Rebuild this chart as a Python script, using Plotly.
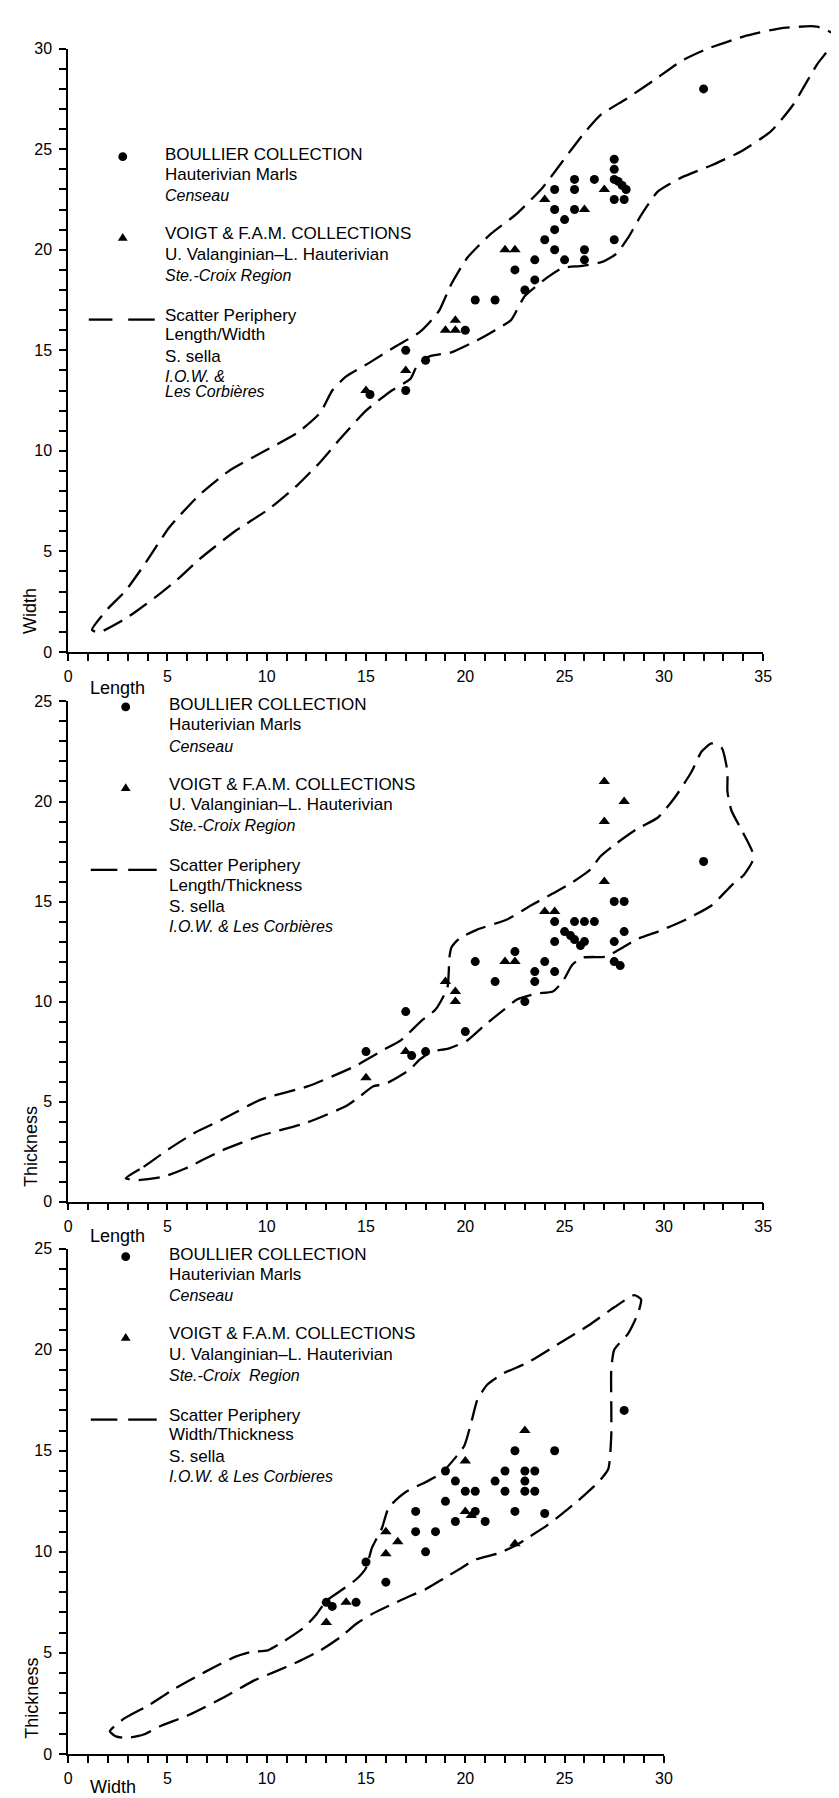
import plotly.graph_objects as go

W, H = 839, 1798

# ---------------- data ----------------
# Panel 1: Length / Width
p1_circ_len = [15.2, 17, 17, 18, 20, 20.5, 21.5, 22.5, 23, 23.5, 23.5, 24, 24.5, 24.5, 25, 24.5, 25.5,
               25, 26, 26, 24.5, 25.5, 25.5, 26.5, 27.5, 27.5, 27.5, 27.7, 27.9, 28.1, 27.5, 28, 27.5, 32]
p1_circ_wid = [12.8, 15, 13, 14.5, 16, 17.5, 17.5, 19, 18, 18.5, 19.5, 20.5, 20, 21, 21.5, 22, 22,
               19.5, 19.5, 20, 23, 23, 23.5, 23.5, 24.5, 24, 23.5, 23.4, 23.2, 23, 22.5, 22.5, 20.5, 28]
p1_tri_len = [15, 17, 19, 19.5, 19.5, 22, 22.5, 24, 26, 27]
p1_tri_wid = [13, 14, 16, 16, 16.5, 20, 20, 22.5, 22, 23]
p1_env_len = [1.2, 2.0, 2.9, 3.95, 5.1, 6.6, 8.1, 10.1, 11.55, 12.7, 13.3, 14.0, 15.2, 16.5, 17.7, 18.3,
              18.7, 19.3, 20.1, 21.3, 22.6, 23.9, 24.9, 25.9, 26.8, 28.1, 29.6, 30.9, 32.2, 34.0, 35.8,
              37.7, 38.7, 37.7, 36.5, 35.4, 33.9, 32.4, 30.9, 29.7, 28.9, 28.2, 27.6, 26.9, 25.9, 24.9,
              24.1, 23.0, 22.7, 22.3, 21.5, 20.6, 19.3, 18.2, 17.6, 17.25, 16.3, 15.0, 13.7, 12.7, 11.55,
              10.1, 8.4, 6.6, 5.5, 4.5, 3.4, 2.8, 1.55]
p1_env_wid = [1.1, 2.15, 3.05, 4.5, 6.2, 7.8, 9.0, 10.1, 10.9, 11.9, 13.0, 13.7, 14.4, 15.2, 15.9, 16.5,
              17.0, 18.3, 19.6, 20.8, 21.8, 23.1, 24.4, 25.7, 26.7, 27.5, 28.5, 29.4, 30.0, 30.6, 31.0,
              31.1, 30.6, 29.2, 27.2, 25.9, 24.9, 24.2, 23.6, 22.9, 21.8, 20.6, 19.8, 19.4, 19.2, 19.1,
              18.6, 17.7, 17.2, 16.5, 16.0, 15.5, 14.9, 14.7, 14.3, 13.6, 13.0, 12.0, 10.6, 9.45, 8.3,
              7.1, 6.0, 4.6, 3.6, 2.8, 2.0, 1.6, 0.97]

# Panel 2: Length / Thickness
p2_circ_len = [15, 17, 17.3, 18, 20, 20.5, 21.5, 22.5, 23, 23.5, 23.5, 24, 24.5, 24.5, 24.5, 25, 25.3,
               25.5, 25.8, 26, 25.5, 26, 26.5, 27.5, 28, 28, 27.5, 27.5, 27.8, 32]
p2_circ_thk = [7.5, 9.5, 7.3, 7.5, 8.5, 12, 11, 12.5, 10, 11.5, 11, 12, 11.5, 14, 13, 13.5, 13.3,
               13.1, 12.8, 13, 14, 14, 14, 15, 15, 13.5, 13, 12, 11.8, 17]
p2_tri_len = [15, 17, 19, 19.5, 19.5, 22, 22.5, 24, 24.5, 27, 27, 28, 27]
p2_tri_thk = [6.2, 7.5, 11, 10.5, 10, 12, 12, 14.5, 14.5, 16, 19, 20, 21]
p2_env_len = [2.9, 3.8, 5.1, 6.4, 7.75, 9.7, 12.05, 14.4, 16.0, 16.75, 17.8, 18.5, 19.1, 19.2, 19.3,
              19.7, 20.6, 22.1, 23.3, 24.4, 25.3, 26.3, 26.8, 27.6, 28.6, 29.7, 30.55, 31.4, 31.9, 32.4,
              32.9, 33.2, 33.2, 33.4, 33.9, 34.45, 34.45, 34.0, 33.4, 32.4, 30.9, 29.7, 28.6, 27.75,
              27.1, 25.9, 25.4, 24.9, 24.4, 23.6, 22.6, 21.95, 20.95, 20.1, 19.15, 18.3, 17.7, 17.2,
              16.0, 15.35, 14.7, 14.0, 12.05, 9.7, 7.75, 5.9, 4.8, 3.5]
p2_env_thk = [1.17, 1.74, 2.65, 3.46, 4.1, 5.1, 5.76, 6.75, 7.65, 8.06, 9.05, 9.6, 10.7, 12.2, 12.7,
              13.15, 13.6, 14.1, 14.8, 15.4, 15.9, 16.6, 17.25, 17.9, 18.6, 19.2, 20.2, 21.5, 22.5, 22.9,
              22.7, 21.5, 20.5, 19.55, 18.6, 17.5, 17.0, 16.3, 15.8, 14.8, 14.0, 13.5, 13.1, 12.6,
              12.25, 12.2, 11.85, 11.0, 10.5, 10.4, 10.1, 9.6, 8.8, 8.06, 7.65, 7.5, 7.1, 6.6,
              5.9, 5.76, 5.27, 4.78, 3.96, 3.3, 2.56, 1.66, 1.25, 1.08]

# Panel 3: Width / Thickness
p3_circ_wid = [13, 13.3, 14.5, 15, 16, 17.5, 17.5, 18, 18.5, 19, 19, 19.5, 19.5, 20, 20.5, 20.5, 21,
               21.5, 22, 22, 22.5, 22.5, 23, 23.5, 23, 23, 23.5, 24, 24.5, 28]
p3_circ_thk = [7.5, 7.3, 7.5, 9.5, 8.5, 12, 11, 10, 11, 12.5, 14, 13.5, 11.5, 13, 13, 12, 11.5,
               13.5, 14, 13, 15, 12, 14, 14, 13.5, 13, 13, 11.9, 15, 17]
p3_tri_wid = [13, 14, 16, 16, 16.6, 20, 20.3, 20, 23, 22.5]
p3_tri_thk = [6.5, 7.5, 11, 9.9, 10.5, 12, 11.8, 14.5, 16, 10.4]
p3_env_wid = [2.1, 2.85, 4.1, 5.25, 6.9, 8.4, 9.2, 10.05, 10.9, 11.9, 12.5, 13.0, 13.7, 14.5, 15.0,
              15.3, 15.8, 16.15, 17.0, 18.1, 18.8, 19.45, 19.95, 20.3, 20.6, 21.1, 21.95, 23.1, 24.7,
              26.2, 27.5, 28.5, 28.85, 28.7, 28.2, 27.5, 27.35, 27.35, 27.35, 27.2, 26.7, 25.7, 24.9,
              24.1, 23.25, 22.6, 21.7, 20.45, 19.8, 18.95, 18.0, 17.3, 16.15, 15.3, 14.5, 13.7, 12.7,
              11.55, 10.4, 9.4, 7.9, 6.1, 4.6, 3.8, 2.95, 2.4]
p3_env_thk = [1.12, 1.77, 2.43, 3.16, 4.06, 4.8, 5.04, 5.12, 5.6, 6.27, 6.9, 7.57, 8.06, 8.63, 9.2,
              10.2, 11.17, 12.2, 12.96, 13.5, 13.9, 14.6, 15.25, 16.4, 17.5, 18.27, 18.85, 19.34, 20.3,
              21.2, 22.1, 22.7, 22.5, 21.8, 20.8, 20.0, 19.0, 17.4, 15.75, 14.1, 13.45, 12.55, 11.9,
              11.3, 10.76, 10.35, 9.94, 9.6, 9.2, 8.7, 8.15, 7.85, 7.33, 6.92, 6.43, 5.77, 5.12,
              4.55, 4.06, 3.65, 2.83, 1.94, 1.36, 0.96, 0.79, 0.87]

x_ticks_35 = list(range(0, 36))
x_ticks_30 = list(range(0, 31))
y_ticks_30 = list(range(0, 31))
y_ticks_25 = list(range(0, 26))

legend_lines = {
    1: ["BOULLIER COLLECTION", "Hauterivian Marls", "<i>Censeau</i>",
        "VOIGT &amp; F.A.M. COLLECTIONS", "U. Valanginian\u2013L. Hauterivian", "<i>Ste.-Croix Region</i>",
        "Scatter Periphery", "Length/Width", "S. sella", "<i>I.O.W. &amp;</i>", "<i>Les Corbi\u00e8res</i>"],
    2: ["BOULLIER COLLECTION", "Hauterivian Marls", "<i>Censeau</i>",
        "VOIGT &amp; F.A.M. COLLECTIONS", "U. Valanginian\u2013L. Hauterivian", "<i>Ste.-Croix Region</i>",
        "Scatter Periphery", "Length/Thickness", "S. sella", "<i>I.O.W. &amp; Les Corbi\u00e8res</i>"],
    3: ["BOULLIER COLLECTION", "Hauterivian Marls", "<i>Censeau</i>",
        "VOIGT &amp; F.A.M. COLLECTIONS", "U. Valanginian\u2013L. Hauterivian", "<i>Ste.-Croix  Region</i>",
        "Scatter Periphery", "Width/Thickness", "S. sella", "<i>I.O.W. &amp; Les Corbieres</i>"],
}

# ---------------- geometry (pixels) ----------------
def fx(px):
    return px / W


def fy(py):
    return 1 - py / H


X0 = 57.0
SX = (763.0 - X0) / 35.0
panels = [
    dict(ybase=642.0, ytop_val=30, ytop_px=33.0, xmax=35, env_top=0.0,
         xt=x_ticks_35, yt=y_ticks_30),
    dict(ybase=1197.0, ytop_val=25, ytop_px=692.0, xmax=35, env_top=650.0,
         xt=x_ticks_35, yt=y_ticks_25),
    dict(ybase=1754.5, ytop_val=25, ytop_px=1244.5, xmax=30, env_top=1200.0,
         xt=x_ticks_30, yt=y_ticks_25),
]

FONT = "Liberation Sans, Arial, Helvetica, sans-serif"
fig = go.Figure()

circ_data = [(p1_circ_len, p1_circ_wid), (p2_circ_len, p2_circ_thk), (p3_circ_wid, p3_circ_thk)]
tri_data = [(p1_tri_len, p1_tri_wid), (p2_tri_len, p2_tri_thk), (p3_tri_wid, p3_tri_thk)]
env_data = [(p1_env_len, p1_env_wid), (p2_env_len, p2_env_thk), (p3_env_wid, p3_env_thk)]

layout = dict(width=W, height=H, margin=dict(l=0, r=0, t=0, b=0), paper_bgcolor="white",
              plot_bgcolor="rgba(0,0,0,0)", showlegend=False, font=dict(family=FONT, color="black"))

for i, p in enumerate(panels):
    n = i + 1
    sy = (p["ybase"] - p["ytop_px"]) / p["ytop_val"]
    vx, vy = ("x" if n == 1 else f"x{n}"), ("y" if n == 1 else f"y{n}")
    hx, hy = f"x{n + 3}", f"y{n + 3}"
    xmax_px = X0 + SX * p["xmax"]

    tick_common = dict(showline=True, linecolor="black", linewidth=1.6, ticks="outside",
                       ticklen=7, tickwidth=1.5, tickcolor="black", showgrid=False, zeroline=False,
                       tickfont=dict(family=FONT, size=16, color="black"), tickmode="array",
                       fixedrange=True)
    layout["xaxis" if n == 1 else f"xaxis{n}"] = dict(
        domain=[fx(X0), fx(xmax_px)], range=[0, p["xmax"]], anchor=vy,
        tickvals=p["xt"], ticktext=[str(v) if v % 5 == 0 else "" for v in p["xt"]],
        ticklabelstandoff=2, **tick_common)
    layout["yaxis" if n == 1 else f"yaxis{n}"] = dict(
        domain=[fy(p["ybase"]), fy(p["ytop_px"])], range=[0, p["ytop_val"]], anchor=vx,
        tickvals=p["yt"], ticktext=[str(v) if v % 5 == 0 else "" for v in p["yt"]],
        ticklabelstandoff=4, **tick_common)
    # hidden axes with the same scale but a larger area for the scatter periphery
    layout[f"xaxis{n + 3}"] = dict(domain=[fx(X0), 1.0], range=[0, (W - X0) / SX], anchor=hy,
                                   visible=False, fixedrange=True)
    layout[f"yaxis{n + 3}"] = dict(domain=[fy(p["ybase"]), fy(p["env_top"])],
                                   range=[0, (p["ybase"] - p["env_top"]) / sy], anchor=hx,
                                   visible=False, fixedrange=True)

    ex, ey = env_data[i]
    fig.add_trace(go.Scatter(x=ex + [ex[0]], y=ey + [ey[0]], mode="lines", xaxis=hx, yaxis=hy,
                             line=dict(color="black", width=2.3, dash="21px,9px", shape="spline",
                                       smoothing=0.55), hoverinfo="skip"))
    cx, cy = circ_data[i]
    fig.add_trace(go.Scatter(x=cx, y=cy, mode="markers", xaxis=vx, yaxis=vy, cliponaxis=False,
                             marker=dict(symbol="circle", size=9, color="black", line=dict(width=0))))
    tx, ty = tri_data[i]
    fig.add_trace(go.Scatter(x=tx, y=ty, mode="markers", xaxis=vx, yaxis=vy, cliponaxis=False,
                             marker=dict(symbol="triangle-up", size=10, color="black",
                                         line=dict(width=0))))

fig.update_layout(**layout)

# ---------------- legends ----------------
annotations = []
shapes = []
legend_pos = {1: dict(top=139.5, tx=153, mx=112.5, d=(78, 102, 118, 145)),
              2: dict(top=695.0, tx=157, mx=115.5, d=(80, 107, 118, 147)),
              3: dict(top=1250.0, tx=157, mx=115.5, d=(80, 107, 118, 147))}
offsets = [0, 20.5, 42, 80.5, 101, 122.5, 162.5, 182.5, 204, 224, 240]

for n, lp in legend_pos.items():
    for k, txt in enumerate(legend_lines[n]):
        italic = txt.startswith("<i>")
        annotations.append(dict(x=fx(lp["tx"]), y=fy(lp["top"] + offsets[k]), xref="paper",
                                yref="paper", text=txt, showarrow=False, xanchor="left",
                                yanchor="middle",
                                font=dict(family=FONT, size=16 if italic else 17, color="black")))
    # circle symbol
    cyp = lp["top"] + 2.5
    shapes.append(dict(type="circle", xref="paper", yref="paper", x0=fx(lp["mx"] - 4.5),
                       x1=fx(lp["mx"] + 4.5), y0=fy(cyp + 4.5), y1=fy(cyp - 4.5),
                       fillcolor="black", line=dict(width=0)))
    # triangle symbol
    tyc = lp["top"] + 84
    path = (f"M {fx(lp['mx'] - 5)} {fy(tyc + 3.5)} L {fx(lp['mx'] + 5)} {fy(tyc + 3.5)} "
            f"L {fx(lp['mx'])} {fy(tyc - 4.5)} Z")
    shapes.append(dict(type="path", xref="paper", yref="paper", path=path, fillcolor="black",
                       line=dict(width=0)))
    # dashed line symbol
    dy = lp["top"] + 167
    a, b, c, d = lp["d"]
    for (s, e) in [(a, b), (c, d)]:
        shapes.append(dict(type="line", xref="paper", yref="paper", x0=fx(s), x1=fx(e), y0=fy(dy),
                           y1=fy(dy), line=dict(color="black", width=2.3)))

# axis titles
titles = [("Length", 107, 678, 0), ("Width", 19, 601, -90),
          ("Length", 107, 1232, 0), ("Thickness", 20, 1141, -90),
          ("Width", 103, 1788, 0), ("Thickness", 20, 1698, -90)]
for txt, px, py, ang in titles:
    annotations.append(dict(x=fx(px), y=fy(py), xref="paper", yref="paper", text=txt,
                            showarrow=False, xanchor="center", yanchor="middle", textangle=ang,
                            font=dict(family=FONT, size=18, color="black")))

fig.update_layout(annotations=annotations, shapes=shapes)
fig.write_html("out.html")
